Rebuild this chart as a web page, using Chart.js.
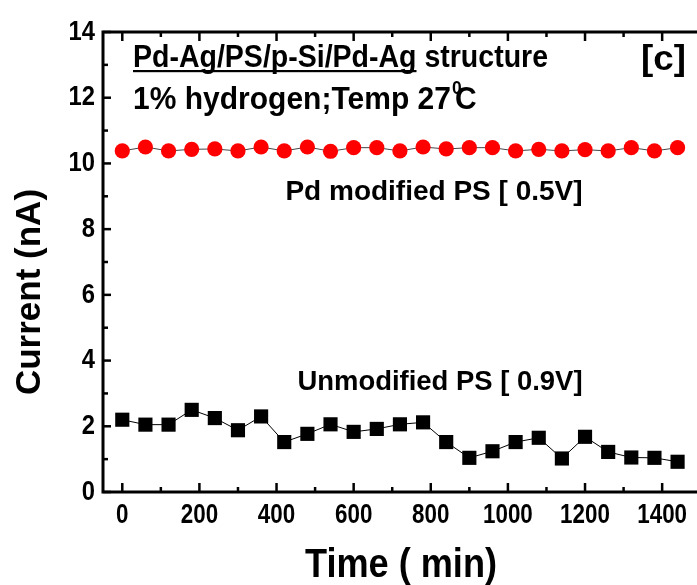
<!DOCTYPE html>
<html>
<head>
<meta charset="utf-8">
<script src="https://cdn.jsdelivr.net/npm/chart.js@4.4.1/dist/chart.umd.min.js"></script>
<style>
html,body{margin:0;padding:0;background:#fff;overflow:hidden;width:697px;height:585px;}
#wrap{position:relative;width:740px;height:585px;}
</style>
</head>
<body>
<div id="wrap"><canvas id="c" width="740" height="585"></canvas></div>
<script>
// ---- data ----
const timeMin = [0,60,120,180,240,300,360,420,480,540,600,660,720,780,840,900,960,1020,1080,1140,1200,1260,1320,1380,1440];
const pdModified = [10.38,10.50,10.38,10.43,10.44,10.38,10.50,10.38,10.50,10.37,10.48,10.48,10.38,10.50,10.44,10.48,10.48,10.38,10.43,10.38,10.42,10.38,10.48,10.38,10.48];
const unmodified = [2.20,2.05,2.05,2.50,2.25,1.88,2.30,1.52,1.77,2.06,1.83,1.92,2.06,2.12,1.52,1.04,1.24,1.52,1.65,1.02,1.68,1.22,1.05,1.04,0.92];
const xTickValues = [0,200,400,600,800,1000,1200,1400];
const yTickValues = [0,2,4,6,8,10,12,14];
const xTitle = 'Time ( min)';
const yTitle = 'Current (nA)';
const noteLine1a = 'Pd-Ag/PS/p-Si/Pd-Ag';
const noteLine1b = ' structure';
const noteLine2 = '1% hydrogen;Temp 27';
const panelTag = '[c]';
const seriesLabelRed = 'Pd modified PS [ 0.5V]';
const seriesLabelBlack = 'Unmodified PS [ 0.9V]';

const SANS = "'Liberation Sans',Arial,sans-serif";

function font(size){ return 'bold ' + size + 'px ' + SANS; }
function measure(ctx, text, size){ ctx.save(); ctx.font = font(size); const w = ctx.measureText(text).width; ctx.restore(); return w; }
// draw text condensed horizontally by factor sx
function drawText(ctx, text, x, y, size, sx, align, baseline){
  ctx.save();
  ctx.font = font(size);
  ctx.textBaseline = baseline || 'alphabetic';
  const w = ctx.measureText(text).width * sx;
  let left = x;
  if (align === 'center') left = x - w/2;
  else if (align === 'right') left = x - w;
  ctx.translate(left, y);
  ctx.scale(sx, 1);
  ctx.textAlign = 'left';
  ctx.fillText(text, 0, 0);
  ctx.restore();
  return w;
}

const frameAndTicks = {
  id:'frameAndTicks',
  afterDatasetsDraw(chart){
    const ctx = chart.ctx, a = chart.chartArea;
    const xs = chart.scales.x, ys = chart.scales.y;
    ctx.save();
    ctx.strokeStyle = '#000';
    ctx.lineWidth = 2.5;
    for (let v = 0; v <= 14; v += 1) {
      const y = ys.getPixelForValue(v);
      const len = (v % 2 === 0) ? 8 : 5;
      ctx.beginPath(); ctx.moveTo(a.left, y); ctx.lineTo(a.left + len, y); ctx.stroke();
    }
    for (let v = 0; v <= 1500; v += 100) {
      const x = xs.getPixelForValue(v);
      const len = (v % 200 === 0) ? 9 : 5;
      ctx.beginPath(); ctx.moveTo(x, a.bottom); ctx.lineTo(x, a.bottom - len); ctx.stroke();
      ctx.beginPath(); ctx.moveTo(x, a.top); ctx.lineTo(x, a.top + len); ctx.stroke();
    }
    ctx.lineWidth = 3;
    ctx.strokeRect(a.left, a.top, a.right - a.left, a.bottom - a.top);
    ctx.restore();
  },
  afterDraw(chart){
    const ctx = chart.ctx, a = chart.chartArea;
    const xs = chart.scales.x, ys = chart.scales.y;
    ctx.save();
    ctx.fillStyle = '#000';
    // tick labels
    xTickValues.forEach(v => {
      drawText(ctx, String(v), xs.getPixelForValue(v), 515, 28, 0.8, 'center', 'middle');
    });
    yTickValues.forEach(v => {
      drawText(ctx, String(v), a.left - 8, ys.getPixelForValue(v), 28, 0.85, 'right', 'middle');
    });
    // axis titles
    drawText(ctx, xTitle, 401, 566, 40, 192 / measure(ctx, xTitle, 40), 'center', 'middle');
    ctx.save();
    ctx.translate(30, 292);
    ctx.rotate(-Math.PI/2);
    drawText(ctx, yTitle, 0, 0, 35, 1.0, 'center', 'middle');
    ctx.restore();
    // notes
    const x0 = 133, y1 = 67, s1 = 31;
    const sx1 = 415 / measure(ctx, noteLine1a + noteLine1b, s1);
    let w1 = drawText(ctx, noteLine1a, x0, y1, s1, sx1, 'left');
    ctx.fillRect(x0, y1 + 3, w1, 2.2);
    drawText(ctx, noteLine1b, x0 + w1, y1, s1, sx1, 'left');
    const y2 = 109;
    const sx2 = 318 / measure(ctx, noteLine2, s1);
    let w2 = drawText(ctx, noteLine2, x0, y2, s1, sx2, 'left');
    drawText(ctx, '0', x0 + w2 + 1, y2 - 15, 18, sx2, 'left');
    drawText(ctx, 'C', x0 + w2 + 4, y2, s1, sx2, 'left');
    drawText(ctx, panelTag, 686, 70, 35, 1.05, 'right');
    drawText(ctx, seriesLabelRed, 434, 192, 28, 1.0, 'center', 'middle');
    drawText(ctx, seriesLabelBlack, 440, 382, 28, 0.98, 'center', 'middle');
    ctx.restore();
  }
};

new Chart(document.getElementById('c'), {
  type:'line',
  data:{
    datasets:[
      {
        label:seriesLabelRed,
        data: timeMin.map((t,i)=>({x:t,y:pdModified[i]})),
        borderColor:'#444', borderWidth:1,
        pointStyle:'circle', pointRadius:7.6,
        pointBackgroundColor:'#ff0000', pointBorderColor:'#ff0000', pointBorderWidth:0,
        tension:0
      },
      {
        label:seriesLabelBlack,
        data: timeMin.map((t,i)=>({x:t,y:unmodified[i]})),
        borderColor:'#000', borderWidth:1,
        pointStyle:'rect', pointRadius:10,
        pointBackgroundColor:'#000', pointBorderColor:'#000', pointBorderWidth:0,
        tension:0
      }
    ]
  },
  options:{
    responsive:false,
    animation:false,
    layout:{padding:{left:0,top:32,right:20,bottom:0}},
    plugins:{legend:{display:false},tooltip:{enabled:false}},
    scales:{
      x:{
        type:'linear', min:-50, max:1550,
        afterBuildTicks(s){ s.ticks = xTickValues.map(v=>({value:v})); },
        afterFit(s){ s.height = 93; },
        grid:{display:false, drawTicks:false},
        border:{display:false},
        ticks:{display:false},
        title:{display:false, text:xTitle}
      },
      y:{
        type:'linear', min:0, max:14,
        afterBuildTicks(s){ s.ticks = yTickValues.map(v=>({value:v})); },
        afterFit(s){ s.width = 103; },
        grid:{display:false, drawTicks:false},
        border:{display:false},
        ticks:{display:false},
        title:{display:false, text:yTitle}
      }
    }
  },
  plugins:[frameAndTicks]
});
</script>
</body>
</html>
